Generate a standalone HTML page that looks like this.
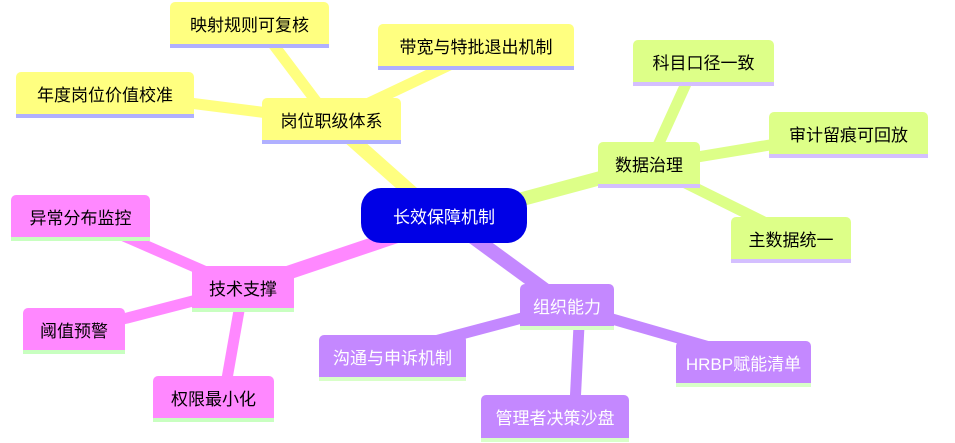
<!DOCTYPE html>
<html><head><meta charset="utf-8"><style>
body{margin:0;width:955px;height:443px;background:#fff;overflow:hidden;position:relative;font-family:"Liberation Sans","Noto Sans CJK SC",sans-serif}
.n{position:absolute;box-sizing:border-box;display:flex;align-items:center;justify-content:center;font-size:17px;color:#000;border-radius:5px 5px 0 0}
.y{background:#ffff80;border-bottom:4px solid #b0b0ff}
.g{background:#ddff88;border-bottom:4px solid #d4bfff}
.p{background:#ff88ff;border-bottom:4px solid #c8ffc0}
.u{background:#c488ff;border-bottom:4px solid #d8ffc8;color:#fff}
svg{position:absolute;left:0;top:0}
</style></head><body>
<svg width="955" height="443">
<g stroke-linecap="butt" fill="none">
<g stroke="#ffff80"><line x1="420" y1="200" x2="331" y2="121" stroke-width="14"/><line x1="331" y1="121" x2="270" y2="40" stroke-width="11"/><line x1="331" y1="121" x2="460" y2="60" stroke-width="11"/><line x1="331" y1="121" x2="150" y2="98" stroke-width="11"/></g>
<g stroke="#ddff88"><line x1="500" y1="205" x2="649" y2="165" stroke-width="14"/><line x1="649" y1="165" x2="690" y2="75" stroke-width="11"/><line x1="649" y1="165" x2="800" y2="140" stroke-width="11"/><line x1="649" y1="165" x2="770" y2="225" stroke-width="11"/></g>
<g stroke="#ff88ff"><line x1="400" y1="235" x2="243" y2="288" stroke-width="14"/><line x1="243" y1="288" x2="110" y2="230" stroke-width="11"/><line x1="243" y1="288" x2="100" y2="325" stroke-width="11"/><line x1="243" y1="288" x2="225" y2="390" stroke-width="11"/></g>
<g stroke="#c488ff"><line x1="470" y1="235" x2="567" y2="306" stroke-width="14"/><line x1="567" y1="306" x2="420" y2="345" stroke-width="11"/><line x1="580" y1="306" x2="575" y2="405" stroke-width="11"/><line x1="567" y1="306" x2="720" y2="350" stroke-width="11"/></g>
</g></svg>
<div class="n" style="left:361px;top:188px;width:166px;height:55px;background:#0000e6;color:#fff;border-radius:20px">长效保障机制</div>
<div class="n y" style="left:262px;top:98px;width:139px;height:46px">岗位职级体系</div>
<div class="n y" style="left:170px;top:2px;width:159px;height:46px">映射规则可复核</div>
<div class="n y" style="left:378px;top:24px;width:196px;height:46px">带宽与特批退出机制</div>
<div class="n y" style="left:16px;top:72px;width:178px;height:46px">年度岗位价值校准</div>
<div class="n g" style="left:598px;top:142px;width:102px;height:46px">数据治理</div>
<div class="n g" style="left:633px;top:40px;width:141px;height:46px">科目口径一致</div>
<div class="n g" style="left:769px;top:112px;width:159px;height:46px">审计留痕可回放</div>
<div class="n g" style="left:731px;top:217px;width:120px;height:46px">主数据统一</div>
<div class="n p" style="left:192px;top:266px;width:102px;height:46px">技术支撑</div>
<div class="n p" style="left:11px;top:195px;width:139px;height:46px">异常分布监控</div>
<div class="n p" style="left:23px;top:308px;width:102px;height:46px">阈值预警</div>
<div class="n p" style="left:153px;top:376px;width:121px;height:46px">权限最小化</div>
<div class="n u" style="left:520px;top:284px;width:94px;height:46px">组织能力</div>
<div class="n u" style="left:319px;top:335px;width:147px;height:46px">沟通与申诉机制</div>
<div class="n u" style="left:481px;top:395px;width:148px;height:47px">管理者决策沙盘</div>
<div class="n u" style="left:676px;top:341px;width:135px;height:46px">HRBP赋能清单</div>
</body></html>
